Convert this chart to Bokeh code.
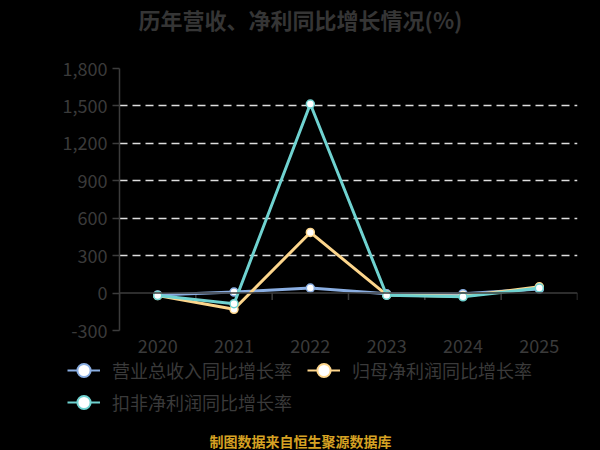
from bokeh.plotting import figure
from bokeh.models import (Range1d, FixedTicker, NumeralTickFormatter, Legend,
                          LegendItem, Span, Label)
from bokeh.layouts import column
from bokeh.embed import file_html
from bokeh.resources import INLINE

years = ["2020", "2021", "2022", "2023", "2024", "2025"]
revenue_growth = [-15, 8, 40, -6, -5, 32]
parent_profit_growth = [-20, -130, 486, -15, -25, 50]
deducted_profit_growth = [-20, -85, 1515, -18, -30, 40]
y_ticks = [-300, 0, 300, 600, 900, 1200, 1500, 1800]
boundaries = [-0.5, 0.5, 1.5, 2.5, 3.5, 4.5, 5.5]
names = ["营业总收入同比增长率", "归母净利润同比增长率", "扣非净利润同比增长率"]
colors = ["#8aaee2", "#fdd68c", "#6fd2d0"]
title_text = "历年营收、净利同比增长情况(%)"
footer_text = "制图数据来自恒生聚源数据库"

FONT = "Noto Sans CJK SC"
TXT = "#3a3a3a"
BG = "#000000"
CSS_BG = {"background-color": BG}

x = list(range(len(years)))
series = [revenue_growth, parent_profit_growth, deducted_profit_growth]


def no_align(f):
    try:
        f.frame_align = False
    except Exception:
        pass


def style(f):
    f.background_fill_color = BG
    f.border_fill_color = BG
    f.outline_line_color = None
    no_align(f)


def blank(h, yr=(0, 1)):
    f = figure(width=600, height=h, output_backend="svg", toolbar_location=None,
               x_range=Range1d(0, 1), y_range=Range1d(*yr),
               x_axis_location=None, y_axis_location=None,
               min_border=0, min_border_left=0, min_border_right=0,
               min_border_top=0, min_border_bottom=0, styles=CSS_BG)
    f.grid.grid_line_color = None
    style(f)
    return f


# ---- title strip
pt = blank(50)
pt.add_layout(Label(x=300, y=32, x_units="screen", y_units="screen",
                    text=title_text, text_align="center", text_baseline="middle",
                    text_font=FONT, text_font_size="22px", text_font_style="bold",
                    text_color="#353535"))

# ---- chart
p = figure(width=600, height=309, output_backend="svg", toolbar_location=None,
           x_range=Range1d(-0.5, 5.5), y_range=Range1d(-300, 1800),
           min_border_left=119, min_border_right=23, min_border_top=18,
           min_border_bottom=29, styles=CSS_BG)
style(p)

p.yaxis.ticker = FixedTicker(ticks=y_ticks)
p.yaxis.formatter = NumeralTickFormatter(format="0,0")
p.yaxis.axis_line_color = "#3c3c3c"
p.yaxis.axis_line_width = 1.5
p.yaxis.major_tick_line_color = "#3c3c3c"
p.yaxis.major_tick_line_width = 1.5
p.yaxis.major_tick_out = 7
p.yaxis.major_tick_in = 0
p.yaxis.minor_tick_line_color = None
p.yaxis.major_label_standoff = 5
p.yaxis.major_label_text_font = FONT
p.yaxis.major_label_text_font_size = "18px"
p.yaxis.major_label_text_color = TXT

p.xaxis.ticker = FixedTicker(ticks=x)
p.xaxis.major_label_overrides = {i: y for i, y in enumerate(years)}
p.xaxis.axis_line_color = None
p.xaxis.major_tick_line_color = None
p.xaxis.minor_tick_line_color = None
p.xaxis.major_tick_out = 0
p.xaxis.major_tick_in = 0
p.xaxis.major_label_standoff = 8
p.xaxis.major_label_text_font = FONT
p.xaxis.major_label_text_font_size = "18px"
p.xaxis.major_label_text_color = TXT

p.xgrid.grid_line_color = None
p.ygrid.ticker = FixedTicker(ticks=[t for t in y_ticks if t != 0])
p.ygrid.grid_line_color = "#dedede"
p.ygrid.grid_line_dash = "8 5"
p.ygrid.grid_line_width = 1.5

p.add_layout(Span(location=0, dimension="width", line_color="#3c3c3c", line_width=1.5))
p.segment(x0=boundaries, x1=boundaries, y0=[0] * len(boundaries),
          y1=[-55] * len(boundaries), line_color="#3c3c3c", line_width=1.5)

for vals, c in zip(series, colors):
    p.line(x, vals, line_color=c, line_width=3)
    p.scatter(x, vals, size=8, fill_color="white", line_color=c, line_width=1.5)

# ---- legend + footer strip (its y range lies far above the data, so only the
# legend swatches of these renderers are seen)
pb = blank(91, yr=(10000, 10001))
items = []
for name, vals, c in zip(names, series, colors):
    l = pb.line(x, vals, line_color=c, line_width=2)
    s = pb.scatter(x, vals, fill_color="white", line_color=c, line_width=2)
    items.append(LegendItem(label=name, renderers=[l, s]))


def mk_legend(its, loc):
    lg = Legend(items=its, location=loc, orientation="horizontal",
                background_fill_alpha=0, border_line_color=None,
                padding=0, margin=0, spacing=15, label_standoff=12,
                glyph_width=33, glyph_height=34,
                label_text_font=FONT, label_text_font_size="18px",
                label_text_color=TXT)
    pb.add_layout(lg)


mk_legend(items[:2], (67, 63))
mk_legend(items[2:], (67, 31))

pb.add_layout(Label(x=300, y=10, x_units="screen", y_units="screen",
                    text=footer_text, text_align="center", text_baseline="middle",
                    text_font=FONT, text_font_size="14px", text_font_style="bold",
                    text_color="#d6a223"))

layout = column(pt, p, pb, spacing=0, styles=CSS_BG)
open("out.html", "w").write(file_html(layout, INLINE))
